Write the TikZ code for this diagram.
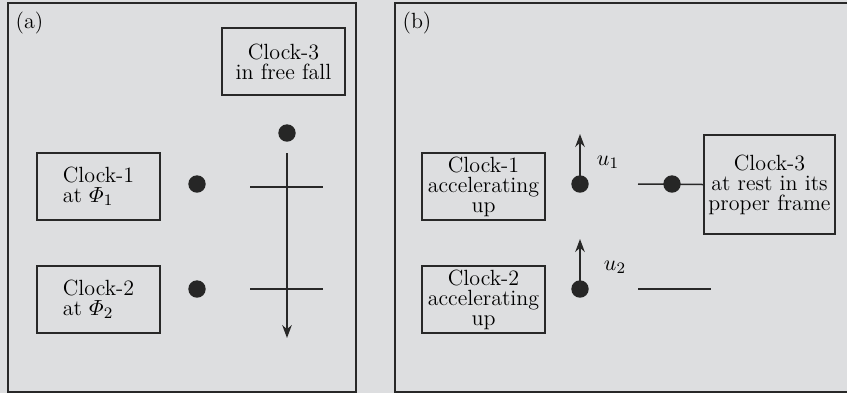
\documentclass[tikz,border=0pt]{standalone}
\usepackage{amsmath}
\usetikzlibrary{arrows.meta}

\definecolor{mygray}{RGB}{221,222,224}
\definecolor{myline}{RGB}{40,40,40}

\begin{document}
\begin{tikzpicture}[
    x=0.5pt, y=-0.5pt,
    panel/.style={draw=myline,line width=1pt},
    clockbox/.style={draw=myline,line width=0.8pt,
        minimum width=61.5pt,minimum height=33.5pt,inner sep=0pt,
        align=center,font=\fontsize{11}{10}\selectfont},
    ball/.style={circle,fill=black!85,inner sep=0pt,minimum size=8.7pt},
    rod/.style={myline,line width=0.75pt},
    push/.style={rod,-{Stealth[length=6.5pt,width=4.8pt]}},
    tag/.style={font=\fontsize{11}{10}\selectfont}
]

% background and panels
\fill[mygray] (0,0) rectangle (847,393);
\useasboundingbox (0,0) rectangle (847,393);
\clip (0,0) rectangle (847,393);
\draw[panel] (7.5,3) rectangle (356,391.5);
\draw[panel] (395,3) rectangle (860,391.5);

% panel (a)
\node[tag] (lbla) at (29.5,23) {(a)};
\node[clockbox] (fall) at (283.5,61.5) {Clock-3\\in free fall};
\node[clockbox,align=left] (clka1) at (98.5,186.5) {Clock-1\\at $\varPhi_1$};
\node[clockbox,align=left] (clka2) at (98.5,299.5) {Clock-2\\at $\varPhi_2$};
\node[ball] (dota1) at (197,184) {};
\node[ball] (dota2) at (197,289) {};
\node[ball] (dotf) at (287,133) {};
\coordinate (ftop) at (287,153);
\coordinate (fbot) at (287,338);
\draw[push] (ftop) -- (fbot);
\foreach \y/\n in {187/1, 289/2} {
    \coordinate (la\n) at (250,\y);
    \coordinate (ra\n) at (323,\y);
    \draw[rod] (la\n) -- (ra\n);
}

% panel (b)
\node[tag] (lblb) at (417,23) {(b)};
\node[clockbox] (clkb1) at (483.5,186.5) {Clock-1\\accelerating\\up};
\node[clockbox] (clkb2) at (483.5,299.5) {Clock-2\\accelerating\\up};
\node[clockbox,minimum width=65.5pt,minimum height=49.5pt] (rest)
    at (769.5,184.5) {Clock-3\\at rest in its\\proper frame};
\foreach \y/\n in {184/1, 289/2} {
    \node[ball] (dotb\n) at (580,\y) {};
    \coordinate (tipb\n) at (580,\y-50);
    \draw[push] (dotb\n.center) -- (tipb\n);
}
\node[tag] (u1) at (608,162) {$u_1$};
\node[tag] (u2) at (615,267) {$u_2$};
\coordinate (lb1) at (638,184);
\draw[rod] (lb1) -- (rest.west);
\node[ball] (dotr) at (672,184) {};
\coordinate (lb2) at (638,289);
\coordinate (rb2) at (711,289);
\draw[rod] (lb2) -- (rb2);

\end{tikzpicture}
\end{document}
